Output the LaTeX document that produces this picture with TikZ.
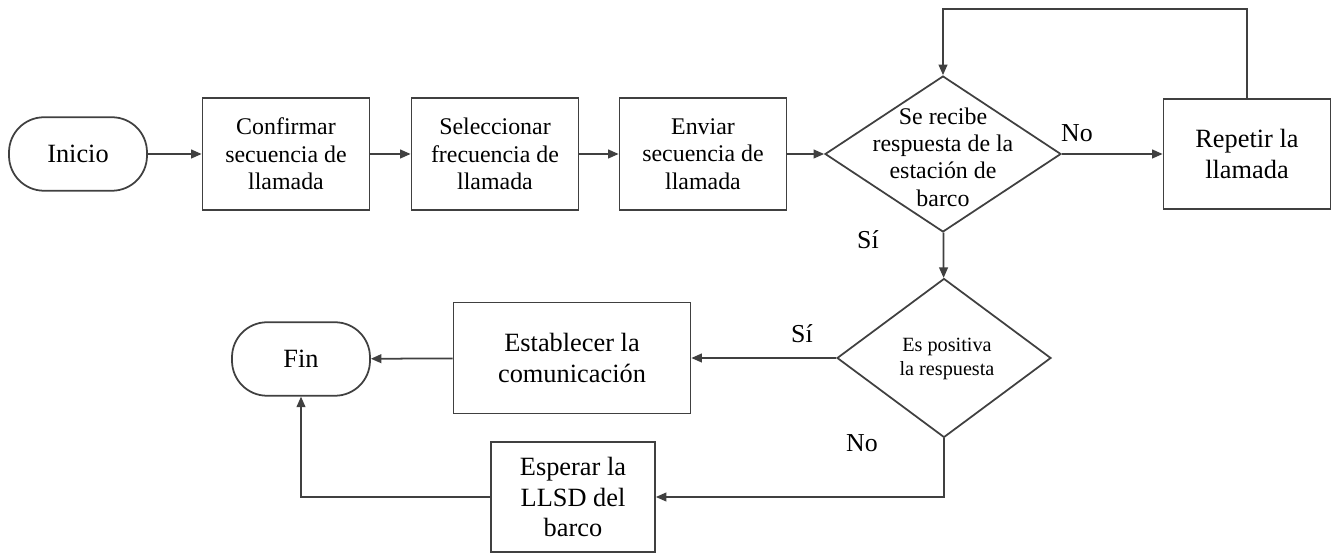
\documentclass[tikz,border=0pt]{standalone}
\usepackage{fontspec}
\setmainfont{Liberation Serif}
\newfontfamily\flowfont{Liberation Serif}
\usetikzlibrary{shapes.geometric,arrows.meta}

\colorlet{wire}{black!75}
\tikzset{
  box/.style={draw=wire, line width=1pt, align=center, inner sep=0pt,
    font=\flowfont\fontsize{13.6}{15.6}\selectfont},
  proc/.style={box, minimum width=3.34cm, minimum height=2.24cm},
  big/.style={font=\flowfont\fontsize{15}{17.5}\selectfont},
  term/.style={box, big, rounded corners=0.7cm, minimum width=2.76cm, minimum height=1.47cm},
  cond/.style={draw=wire, line width=1pt, diamond, inner sep=0pt},
  lbl/.style={font=\flowfont\fontsize{14.7}{17}\selectfont},
  flow/.style={draw=wire, line width=1pt, -{Triangle[length=6pt,width=5pt]}},
}

\begin{document}
\begin{tikzpicture}[x=0.02cm, y=-0.02cm]
  \useasboundingbox (0, 0) rectangle (1333, 553);
  \draw (78, 154)   node[term] (start) {Inicio};
  \draw (286, 154)  node[proc] (confirm) {Confirmar\\secuencia de\\llamada};
  \draw (495, 154)  node[proc] (select) {Seleccionar\\frecuencia de\\llamada};
  \draw (703, 154)  node[proc] (send) {Enviar\\secuencia de\\llamada};
  \draw (943, 154)  node[cond, minimum width=4.72cm, minimum height=3.12cm] (recv) {};
  \draw (943, 157)  node[box, draw=none] (recvtext) {Se recibe\\respuesta de la\\estaci\'on de\\barco};
  \draw (1247, 154) node[proc, big, minimum height=2.2cm] (repeat) {Repetir la\\llamada};
  \draw (944, 358)  node[cond, minimum width=4.28cm, minimum height=3.18cm] (posit) {};
  \draw (947, 359)  node[box, draw=none, font=\flowfont\fontsize{11.5}{14}\selectfont] (posittext) {Es positiva\\la respuesta};
  \draw (572, 358)  node[proc, big, minimum width=4.74cm, minimum height=2.22cm] (establish) {Establecer la\\comunicaci\'on};
  \draw (301, 359)  node[term] (fin) {Fin};
  \draw (573, 497)  node[proc, big, minimum width=3.28cm, minimum height=2.2cm] (wait) {Esperar la\\LLSD del\\barco};
  \coordinate (loop) at (1247, 9);
  \draw[flow] (start) -- (confirm);
  \draw[flow] (confirm) -- (select);
  \draw[flow] (select) -- (send);
  \draw[flow] (send) -- (recv);
  \draw[flow] (recv) -- (repeat);
  \draw[flow] (repeat.north) -- (loop) -| (recv.north);
  \draw[flow] (recv) -- (posit);
  \draw[flow] (posit) -- (establish);
  \draw[flow] (establish) -- (fin);
  \draw[flow] (posit.south) |- (wait);
  \draw[flow] (wait) -| (fin);
  \draw (1077, 133) node[lbl] (no1) {No};
  \draw (868, 240)  node[lbl] (si1) {S\'i};
  \draw (802, 334)  node[lbl] (si2) {S\'i};
  \draw (862, 443)  node[lbl] (no2) {No};
\end{tikzpicture}
\end{document}
